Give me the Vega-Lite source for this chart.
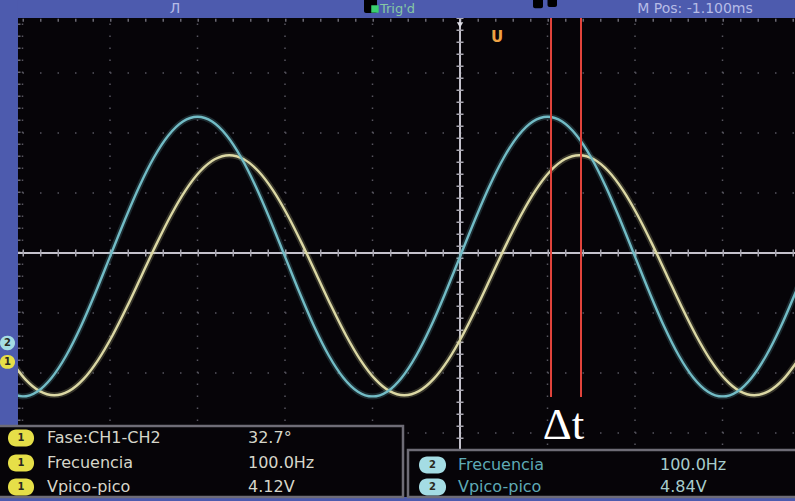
{
  "$schema": "https://vega.github.io/schema/vega-lite/v6.json",
  "width": 795,
  "height": 501,
  "autosize": {"type": "fit", "contains": "padding"},
  "padding": 0,
  "background": "#060408",
  "config": {"view": {"stroke": null}},
  "datasets": {
    "ch2": [
      {"t": -12.917, "v": -2.311}, {"t": -12.5, "v": -2.39}, {"t": -12.083, "v": -2.311}, {"t": -11.667, "v": -2.078},
      {"t": -11.25, "v": -1.708}, {"t": -10.833, "v": -1.225}, {"t": -10.417, "v": -0.663}, {"t": -10.0, "v": -0.06},
      {"t": -9.583, "v": 0.543}, {"t": -9.167, "v": 1.105}, {"t": -8.75, "v": 1.588}, {"t": -8.333, "v": 1.958},
      {"t": -7.917, "v": 2.191}, {"t": -7.5, "v": 2.27}, {"t": -7.083, "v": 2.191}, {"t": -6.667, "v": 1.958},
      {"t": -6.25, "v": 1.588}, {"t": -5.833, "v": 1.105}, {"t": -5.417, "v": 0.543}, {"t": -5.0, "v": -0.06},
      {"t": -4.583, "v": -0.663}, {"t": -4.167, "v": -1.225}, {"t": -3.75, "v": -1.708}, {"t": -3.333, "v": -2.078},
      {"t": -2.917, "v": -2.311}, {"t": -2.5, "v": -2.39}, {"t": -2.083, "v": -2.311}, {"t": -1.667, "v": -2.078},
      {"t": -1.25, "v": -1.708}, {"t": -0.833, "v": -1.225}, {"t": -0.417, "v": -0.663}, {"t": 0.0, "v": -0.06},
      {"t": 0.417, "v": 0.543}, {"t": 0.833, "v": 1.105}, {"t": 1.25, "v": 1.588}, {"t": 1.667, "v": 1.958},
      {"t": 2.083, "v": 2.191}, {"t": 2.5, "v": 2.27}, {"t": 2.917, "v": 2.191}, {"t": 3.333, "v": 1.958},
      {"t": 3.75, "v": 1.588}, {"t": 4.167, "v": 1.105}, {"t": 4.583, "v": 0.543}, {"t": 5.0, "v": -0.06},
      {"t": 5.417, "v": -0.663}, {"t": 5.833, "v": -1.225}, {"t": 6.25, "v": -1.708}, {"t": 6.667, "v": -2.078},
      {"t": 7.083, "v": -2.311}, {"t": 7.5, "v": -2.39}, {"t": 7.917, "v": -2.311}, {"t": 8.333, "v": -2.078},
      {"t": 8.75, "v": -1.708}, {"t": 9.167, "v": -1.225}, {"t": 9.583, "v": -0.663}, {"t": 10.0, "v": -0.06}
    ],
    "ch1": [
      {"t": -12.842, "v": -1.784}, {"t": -12.425, "v": -2.102}, {"t": -12.009, "v": -2.302}, {"t": -11.592, "v": -2.37},
      {"t": -11.175, "v": -2.302}, {"t": -10.759, "v": -2.102}, {"t": -10.342, "v": -1.784}, {"t": -9.925, "v": -1.37},
      {"t": -9.509, "v": -0.888}, {"t": -9.092, "v": -0.37}, {"t": -8.675, "v": 0.148}, {"t": -8.259, "v": 0.63},
      {"t": -7.842, "v": 1.044}, {"t": -7.425, "v": 1.362}, {"t": -7.009, "v": 1.562}, {"t": -6.592, "v": 1.63},
      {"t": -6.175, "v": 1.562}, {"t": -5.759, "v": 1.362}, {"t": -5.342, "v": 1.044}, {"t": -4.925, "v": 0.63},
      {"t": -4.509, "v": 0.148}, {"t": -4.092, "v": -0.37}, {"t": -3.675, "v": -0.888}, {"t": -3.259, "v": -1.37},
      {"t": -2.842, "v": -1.784}, {"t": -2.425, "v": -2.102}, {"t": -2.009, "v": -2.302}, {"t": -1.592, "v": -2.37},
      {"t": -1.175, "v": -2.302}, {"t": -0.759, "v": -2.102}, {"t": -0.342, "v": -1.784}, {"t": 0.075, "v": -1.37},
      {"t": 0.491, "v": -0.888}, {"t": 0.908, "v": -0.37}, {"t": 1.325, "v": 0.148}, {"t": 1.741, "v": 0.63},
      {"t": 2.158, "v": 1.044}, {"t": 2.575, "v": 1.362}, {"t": 2.991, "v": 1.562}, {"t": 3.408, "v": 1.63},
      {"t": 3.825, "v": 1.562}, {"t": 4.241, "v": 1.362}, {"t": 4.658, "v": 1.044}, {"t": 5.075, "v": 0.63},
      {"t": 5.491, "v": 0.148}, {"t": 5.908, "v": -0.37}, {"t": 6.325, "v": -0.888}, {"t": 6.741, "v": -1.37},
      {"t": 7.158, "v": -1.784}, {"t": 7.575, "v": -2.102}, {"t": 7.991, "v": -2.302}, {"t": 8.408, "v": -2.37},
      {"t": 8.825, "v": -2.302}, {"t": 9.241, "v": -2.102}, {"t": 9.658, "v": -1.784}
    ]
  },
  "encoding": {
    "x": {"field": "t", "type": "quantitative", "scale": {"domain": [-13.143, 9.571], "nice": false, "zero": false}, "axis": null},
    "y": {"field": "v", "type": "quantitative", "scale": {"domain": [-4.1333, 4.2167], "nice": false, "zero": false}, "axis": null}
  },
  "layer": [
    {
      "data": {"values": [{"t": -12.5, "v": -4, "v2": 3.9167}, {"t": -10, "v": -4, "v2": 3.9167}, {"t": -7.5, "v": -4, "v2": 3.9167}, {"t": -5, "v": -4, "v2": 3.9167}, {"t": -2.5, "v": -4, "v2": 3.9167}, {"t": 2.5, "v": -4, "v2": 3.9167}, {"t": 5, "v": -4, "v2": 3.9167}, {"t": 7.5, "v": -4, "v2": 3.9167}]},
      "mark": {"type": "rule", "color": "#56545e", "strokeWidth": 1.5, "strokeDash": [1.5, 10.5], "clip": true},
      "encoding": {"y2": {"field": "v2"}}
    },
    {
      "data": {"values": [{"v": 3, "t": -12.5, "t2": 9.7}, {"v": 2, "t": -12.5, "t2": 9.7}, {"v": 1, "t": -12.5, "t2": 9.7}, {"v": -1, "t": -12.5, "t2": 9.7}, {"v": -2, "t": -12.5, "t2": 9.7}, {"v": -3, "t": -12.5, "t2": 9.7}]},
      "mark": {"type": "rule", "color": "#56545e", "strokeWidth": 1.5, "strokeDash": [1.5, 16], "clip": true},
      "encoding": {"x2": {"field": "t2"}}
    },
    {
      "data": {"values": [{"t": -12.6, "v": -4, "v2": 3.9167}]},
      "mark": {"type": "rule", "color": "#6a6872", "strokeWidth": 3, "strokeDash": [1.5, 10.5], "clip": true},
      "encoding": {"y2": {"field": "v2"}}
    },
    {
      "data": {"values": [{"v": 3.88, "t": -12.5, "t2": 9.7}]},
      "mark": {"type": "rule", "color": "#6a6872", "strokeWidth": 3, "strokeDash": [1.5, 16], "clip": true},
      "encoding": {"x2": {"field": "t2"}}
    },
    {
      "data": {"values": [{"v": 0, "t": -12.629, "t2": 9.7}]},
      "mark": {"type": "rule", "color": "#c4c2cc", "strokeWidth": 2, "clip": true},
      "encoding": {"x2": {"field": "t2"}}
    },
    {
      "data": {"values": [{"t": 0, "v": -3.283, "v2": 3.9167}]},
      "mark": {"type": "rule", "color": "#c4c2cc", "strokeWidth": 2, "clip": true},
      "encoding": {"y2": {"field": "v2"}}
    },
    {
      "data": {"values": [{"v": 0, "t": -12.5, "t2": 9.7}]},
      "mark": {"type": "rule", "color": "#a8a6b0", "strokeWidth": 7, "strokeDash": [1.5, 16], "clip": true},
      "encoding": {"x2": {"field": "t2"}}
    },
    {
      "data": {"values": [{"t": 0, "v": -3.3, "v2": 3.9167}]},
      "mark": {"type": "rule", "color": "#a8a6b0", "strokeWidth": 7, "strokeDash": [1.5, 10.5], "clip": true},
      "encoding": {"y2": {"field": "v2"}}
    },
    {
      "data": {"name": "ch1"},
      "mark": {"type": "line", "interpolate": "monotone", "color": "#d8d49c", "strokeWidth": 6, "opacity": 0.22, "clip": true},
      "encoding": {}
    },
    {
      "data": {"name": "ch2"},
      "mark": {"type": "line", "interpolate": "monotone", "color": "#6cb6c0", "strokeWidth": 6, "opacity": 0.22, "clip": true},
      "encoding": {}
    },
    {
      "data": {"name": "ch1"},
      "mark": {"type": "line", "interpolate": "monotone", "color": "#dcd8a4", "strokeWidth": 2.4, "clip": true},
      "encoding": {}
    },
    {
      "data": {"name": "ch2"},
      "mark": {"type": "line", "interpolate": "monotone", "color": "#72bcc6", "strokeWidth": 2.4, "clip": true},
      "encoding": {}
    },
    {
      "data": {"values": [{"t": 2.6, "v": -2.4, "v2": 3.9167}, {"t": 3.457, "v": -2.4, "v2": 3.9167}]},
      "mark": {"type": "rule", "color": "#e2443c", "strokeWidth": 2, "clip": true},
      "encoding": {"y2": {"field": "v2"}}
    },
    {
      "data": {"values": [{"t": 2.957, "v": -3.1, "label": "Δt"}]},
      "mark": {"type": "text", "font": "Liberation Serif", "fontSize": 45, "color": "#ffffff", "align": "center", "baseline": "alphabetic", "clip": true},
      "encoding": {"text": {"field": "label"}}
    },
    {
      "data": {"values": [
        {"t": -13.3, "t2": 9.7, "v": 3.9167, "v2": 4.3},
        {"t": -13.3, "t2": -12.629, "v": -4.3, "v2": 4.3},
        {"t": -13.3, "t2": 9.7, "v": -4.3, "v2": -4.067}
      ]},
      "mark": {"type": "rect", "color": "#4d5bae", "clip": true},
      "encoding": {"x2": {"field": "t2"}, "y2": {"field": "v2"}}
    },
    {
      "data": {"values": [
        {"t": -2.743, "t2": -2.371, "v": 4.0, "v2": 4.3},
        {"t": 2.086, "t2": 2.371, "v": 4.08, "v2": 4.3},
        {"t": 2.5, "t2": 2.771, "v": 4.1, "v2": 4.3}
      ]},
      "mark": {"type": "rect", "color": "#000000", "cornerRadius": 2, "clip": true},
      "encoding": {"x2": {"field": "t2"}, "y2": {"field": "v2"}}
    },
    {
      "data": {"values": [
        {"t": -13.3, "t2": -1.629, "v": -4.067, "v2": -2.883},
        {"t": -1.486, "t2": 9.7, "v": -4.067, "v2": -3.283}
      ]},
      "mark": {"type": "rect", "fill": "#060408", "stroke": "#6e6c76", "strokeWidth": 2.5, "clip": true},
      "encoding": {"x2": {"field": "t2"}, "y2": {"field": "v2"}}
    },
    {
      "data": {"values": [
        {"t": -12.914, "t2": -12.171, "v": -3.223, "v2": -2.943},
        {"t": -12.914, "t2": -12.171, "v": -3.64, "v2": -3.36},
        {"t": -12.914, "t2": -12.171, "v": -4.04, "v2": -3.76},
        {"t": -13.143, "t2": -12.714, "v": -1.93, "v2": -1.7}
      ]},
      "mark": {"type": "rect", "color": "#e6df48", "cornerRadius": 8, "clip": true},
      "encoding": {"x2": {"field": "t2"}, "y2": {"field": "v2"}}
    },
    {
      "data": {"values": [
        {"t": -1.171, "t2": -0.4, "v": -3.673, "v2": -3.393},
        {"t": -1.171, "t2": -0.4, "v": -4.04, "v2": -3.76},
        {"t": -13.143, "t2": -12.714, "v": -1.62, "v2": -1.38}
      ]},
      "mark": {"type": "rect", "color": "#a4dce4", "cornerRadius": 8, "clip": true},
      "encoding": {"x2": {"field": "t2"}, "y2": {"field": "v2"}}
    },
    {
      "data": {"values": [
        {"t": -12.543, "v": -3.083, "label": "1"},
        {"t": -12.543, "v": -3.5, "label": "1"},
        {"t": -12.543, "v": -3.9, "label": "1"},
        {"t": -0.786, "v": -3.533, "label": "2"},
        {"t": -0.786, "v": -3.9, "label": "2"},
        {"t": -12.93, "v": -1.815, "label": "1"},
        {"t": -12.93, "v": -1.5, "label": "2"}
      ]},
      "mark": {"type": "text", "font": "DejaVu Sans", "fontSize": 10, "fontWeight": "bold", "color": "#2a2a20", "align": "center", "baseline": "middle", "clip": true},
      "encoding": {"text": {"field": "label"}}
    },
    {
      "data": {"values": [
        {"t": -11.8, "v": -3.083, "label": "Fase:CH1-CH2"},
        {"t": -11.8, "v": -3.5, "label": "Frecuencia"},
        {"t": -11.8, "v": -3.9, "label": "Vpico-pico"},
        {"t": -6.057, "v": -3.083, "label": "32.7°"},
        {"t": -6.057, "v": -3.5, "label": "100.0Hz"},
        {"t": -6.057, "v": -3.9, "label": "4.12V"}
      ]},
      "mark": {"type": "text", "font": "DejaVu Sans", "fontSize": 16, "color": "#d6d6ca", "align": "left", "baseline": "middle", "clip": true},
      "encoding": {"text": {"field": "label"}}
    },
    {
      "data": {"values": [
        {"t": -0.057, "v": -3.533, "label": "Frecuencia"},
        {"t": -0.057, "v": -3.9, "label": "Vpico-pico"}
      ]},
      "mark": {"type": "text", "font": "DejaVu Sans", "fontSize": 16, "color": "#5eaab6", "align": "left", "baseline": "middle", "clip": true},
      "encoding": {"text": {"field": "label"}}
    },
    {
      "data": {"values": [
        {"t": 5.714, "v": -3.533, "label": "100.0Hz"},
        {"t": 5.714, "v": -3.9, "label": "4.84V"}
      ]},
      "mark": {"type": "text", "font": "DejaVu Sans", "fontSize": 16, "color": "#a6cccc", "align": "left", "baseline": "middle", "clip": true},
      "encoding": {"text": {"field": "label"}}
    },
    {
      "data": {"values": [
        {"t": 6.714, "v": 4.067, "label": "M Pos: -1.100ms"},
        {"t": -8.143, "v": 4.067, "label": "Л"}
      ]},
      "mark": {"type": "text", "font": "DejaVu Sans", "fontSize": 14, "color": "#b6bce6", "align": "center", "baseline": "middle", "clip": true},
      "encoding": {"text": {"field": "label"}}
    },
    {
      "data": {"values": [{"t": -2.286, "v": 4.067, "label": "Trig'd"}]},
      "mark": {"type": "text", "font": "DejaVu Sans", "fontSize": 13, "color": "#86c8a4", "align": "left", "baseline": "middle", "clip": true},
      "encoding": {"text": {"field": "label"}}
    },
    {
      "data": {"values": [{"t": -2.43, "v": 4.067}]},
      "mark": {"type": "point", "shape": "square", "size": 55, "filled": true, "color": "#3ad06e", "opacity": 1, "clip": true},
      "encoding": {}
    },
    {
      "data": {"values": [{"t": 0, "v": 3.8}]},
      "mark": {"type": "point", "shape": "triangle-down", "size": 40, "filled": true, "color": "#dcdce4", "opacity": 1, "clip": true},
      "encoding": {}
    },
    {
      "data": {"values": [{"t": 1.057, "v": 3.6, "label": "U"}]},
      "mark": {"type": "text", "font": "DejaVu Sans", "fontSize": 15, "fontWeight": "bold", "color": "#eea244", "align": "center", "baseline": "middle", "clip": true},
      "encoding": {"text": {"field": "label"}}
    }
  ]
}
